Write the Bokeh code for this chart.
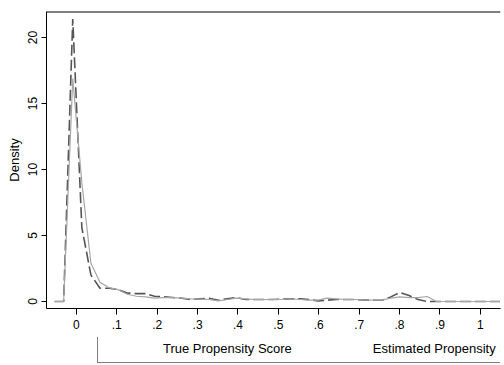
from bokeh.plotting import figure
from bokeh.layouts import column
from bokeh.models import ColumnDataSource, Legend, LegendItem, FixedTicker, Range1d, Span
from bokeh.embed import file_html
from bokeh.resources import INLINE

# evaluation points of the density estimates
score = [-0.054, -0.0315, -0.009, 0.0135, 0.036, 0.0585, 0.081, 0.1035, 0.126, 0.1485,
         0.171, 0.1935, 0.216, 0.2385, 0.261, 0.2835, 0.306, 0.3285, 0.351, 0.3735,
         0.396, 0.4185, 0.441, 0.4635, 0.486, 0.5085, 0.531, 0.5535, 0.576, 0.5985,
         0.621, 0.6435, 0.666, 0.6885, 0.711, 0.7335, 0.756, 0.7785, 0.801, 0.8235,
         0.846, 0.8685, 0.891, 0.9135, 0.936, 0.9585, 0.981, 1.0035, 1.026, 1.0485]

true_density = [0, 0, 21.4, 5.6, 2.0, 1.0, 1.0, 0.9, 0.65, 0.6,
                0.6, 0.4, 0.35, 0.3, 0.25, 0.15, 0.2, 0.25, 0.1, 0.2,
                0.3, 0.15, 0.15, 0.15, 0.15, 0.18, 0.2, 0.2, 0.15, 0.05,
                0.1, 0.15, 0.15, 0.15, 0.12, 0.1, 0.1, 0.35, 0.68, 0.45,
                0.15, 0.0, 0, 0, 0, 0, 0, 0, 0, 0]

est_density = [0, 0, 16.9, 9.0, 2.9, 1.45, 1.05, 0.9, 0.55, 0.4,
               0.35, 0.25, 0.3, 0.3, 0.25, 0.2, 0.18, 0.15, 0.05, 0.15,
               0.25, 0.2, 0.15, 0.15, 0.15, 0.15, 0.2, 0.15, 0.1, 0.1,
               0.25, 0.2, 0.15, 0.15, 0.12, 0.1, 0.1, 0.25, 0.35, 0.3,
               0.3, 0.38, 0, 0, 0, 0, 0, 0, 0, 0]

x_ticks = [0, 0.1, 0.2, 0.3, 0.4, 0.5, 0.6, 0.7, 0.8, 0.9, 1.0]
x_tick_labels = ["0", ".1", ".2", ".3", ".4", ".5", ".6", ".7", ".8", ".9", "1"]
y_ticks = [0, 5, 10, 15, 20]

series_names = ["True Propensity Score", "Estimated Propensity Score"]

FONT = "Liberation Sans"
Y_TOP = 21.97
TRUE_STYLE = dict(line_color="#555555", line_width=1.6, line_dash="11 4")
EST_STYLE = dict(line_color="#a6a6a6", line_width=1.2)

src = ColumnDataSource(dict(x=score, t=true_density, e=est_density))

p = figure(width=504, height=337, output_backend="svg", toolbar_location=None,
           x_range=Range1d(-0.074, 1.05), y_range=Range1d(-0.53, Y_TOP),
           min_border_left=46, min_border_right=4, min_border_top=11, min_border_bottom=29)
p.background_fill_color = "white"
p.border_fill_color = "white"
p.outline_line_color = None
p.grid.visible = False

r_true = p.line("x", "t", source=src, **TRUE_STYLE)
r_est = p.line("x", "e", source=src, **EST_STYLE)

# axes
xa = p.xaxis[0]
xa.ticker = FixedTicker(ticks=x_ticks)
xa.major_label_overrides = {t: l for t, l in zip(x_ticks, x_tick_labels)}
xa.minor_tick_line_color = None
xa.major_tick_out = 6
xa.major_tick_in = 0
xa.major_label_standoff = 5
xa.axis_line_color = "black"
xa.major_tick_line_color = "black"
xa.major_label_text_font = FONT
xa.major_label_text_font_size = "12px"
xa.major_label_text_color = "black"

ya = p.yaxis[0]
ya.ticker = FixedTicker(ticks=y_ticks)
ya.minor_tick_line_color = None
ya.major_tick_out = 5
ya.major_tick_in = 0
ya.major_label_orientation = "vertical"
ya.major_label_standoff = 4
ya.axis_line_color = "black"
ya.major_tick_line_color = "black"
ya.major_label_text_font = FONT
ya.major_label_text_font_size = "12px"
ya.major_label_text_color = "black"
ya.axis_label = "Density"
ya.axis_label_text_font = FONT
ya.axis_label_text_font_size = "13px"
ya.axis_label_text_font_style = "normal"
ya.axis_label_standoff = 4
ya.axis_label_text_color = "black"

# top border of the plot region
p.add_layout(Span(location=Y_TOP, dimension="width", line_color="black", line_width=2))

# legend strip below the plot
lg = figure(width=504, height=28, output_backend="svg", toolbar_location=None,
            x_axis_location=None, y_axis_location=None,
            x_range=Range1d(0, 1), y_range=Range1d(0, 1),
            min_border_left=0, min_border_right=0, min_border_top=0, min_border_bottom=0)
lg.outline_line_color = None
lg.grid.visible = False
lg.background_fill_color = "white"
lg.border_fill_color = "white"
k_true = lg.line(x=[], y=[], **TRUE_STYLE)
k_est = lg.line(x=[], y=[], **EST_STYLE)

legend = Legend(items=[LegendItem(label=series_names[0], renderers=[k_true]),
                       LegendItem(label=series_names[1], renderers=[k_est])],
                orientation="horizontal", location=(51, 2))
legend.label_text_font = FONT
legend.label_text_font_size = "13px"
legend.label_text_color = "black"
legend.glyph_width = 50
legend.glyph_height = 12
legend.label_height = 12
legend.label_standoff = 9
legend.spacing = 22
legend.padding = 6
legend.margin = 0
legend.border_line_color = "black"
legend.border_line_width = 1
legend.background_fill_color = "white"
legend.background_fill_alpha = 1
lg.add_layout(legend)

layout = column(p, lg, spacing=0)
open("out.html", "w").write(file_html(layout, INLINE))
